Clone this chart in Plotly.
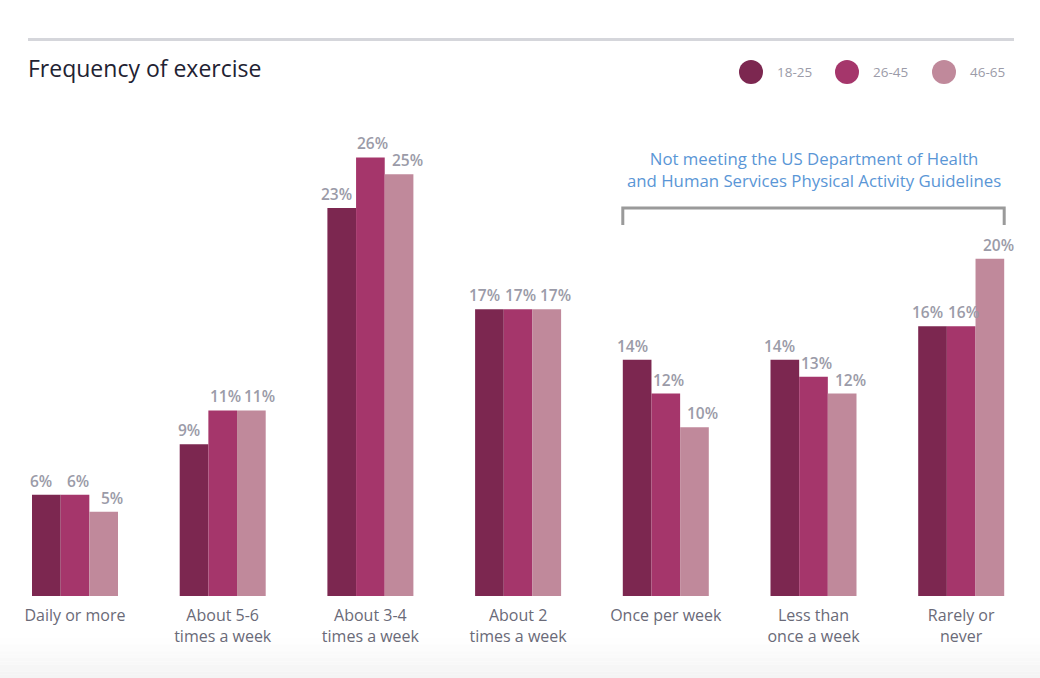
import plotly.graph_objects as go

categories = ["Daily or more", "About 5-6<br>times a week", "About 3-4<br>times a week",
              "About 2<br>times a week", "Once per week", "Less than<br>once a week", "Rarely or<br>never"]
series_names = ["18-25", "26-45", "46-65"]
values_18_25 = [6, 9, 23, 17, 14, 14, 16]
values_26_45 = [6, 11, 26, 17, 12, 13, 16]
values_46_65 = [5, 11, 25, 17, 10, 12, 20]
colors = ["#7c2750", "#a5366b", "#c0899b"]
note_text = "Not meeting the US Department of Health<br>and Human Services Physical Activity Guidelines"
note_groups = [4, 6]  # first and last category index covered by the bracket
title_text = "Frequency of exercise"

W, H = 1040, 678
ML, MR, MT, MB = 0, 0, 90, 82
FONT = "'Open Sans', Lato, sans-serif"

x_idx = list(range(len(categories)))
all_series = [values_18_25, values_26_45, values_46_65]

# x scaling: group spacing ~147.7 px, first group centre at 75 px
spacing = 147.7
group_px = 86
x0 = -75 / spacing
x1 = x0 + (W - ML - MR) / spacing
half_group = 0.5 * group_px / spacing
bar_w = group_px / 3 / spacing

fig = go.Figure()
for name, vals, col in zip(series_names, all_series, colors):
    fig.add_trace(go.Bar(
        x=x_idx, y=vals, name=name, marker=dict(color=col, line=dict(width=0)),
        showlegend=False, hoverinfo="skip",
    ))

# value labels, slightly spread apart so neighbours don't touch
label_nudge = [-5, 2.5, 8.5]
for si, vals in enumerate(all_series):
    for ci, v in enumerate(vals):
        fig.add_annotation(x=ci + (si - 1) * bar_w, y=v, text=f"{v}%", showarrow=False,
                           xref="x", yref="y", xanchor="center", yanchor="bottom",
                           xshift=label_nudge[si], yshift=1,
                           font=dict(family=FONT, size=15.5, color="#9b9ba8", weight=600))

fig.update_layout(
    width=W, height=H, margin=dict(l=ML, r=MR, t=MT, b=MB),
    paper_bgcolor="white", plot_bgcolor="rgba(0,0,0,0)",
    barmode="group", bargap=1 - group_px / spacing, bargroupgap=0,
    font=dict(family=FONT),
    xaxis=dict(range=[x0, x1], tickmode="array", tickvals=x_idx, ticktext=categories,
               showgrid=False, zeroline=False, showline=False,
               ticks="outside", ticklen=5, tickcolor="rgba(0,0,0,0)",
               tickfont=dict(family=FONT, size=16, color="#6a6a78")),
    yaxis=dict(range=[0, 30], visible=False, showgrid=False, zeroline=False),
)

plot_h = H - MT - MB

def py(p):
    return (H - MB - p) / plot_h

# background gradient at the bottom
n = 12
top, bot = 638, 678
for i in range(n):
    ya = top + (bot - top) * i / n
    yb = top + (bot - top) * (i + 1) / n
    g = int(round(255 - 12 * (i + 0.5) / n))
    fig.add_shape(type="rect", xref="paper", yref="paper", x0=0, x1=1, y0=py(yb), y1=py(ya),
                  fillcolor=f"rgb({g},{g},{g})", line=dict(width=0), layer="below")

# top rule
fig.add_shape(type="line", xref="paper", yref="paper", x0=28 / W, x1=1014 / W, y0=py(39.5), y1=py(39.5),
              line=dict(color="#d5d6db", width=3))

# title
fig.add_annotation(text=title_text, xref="paper", yref="paper", x=26 / W, y=py(68), xanchor="left",
                   yanchor="middle", showarrow=False,
                   font=dict(family=FONT, size=23, color="#222232"))

# legend
leg_x = [751, 847, 944]
for cx, name, col in zip(leg_x, series_names, colors):
    fig.add_shape(type="circle", xref="paper", yref="paper", xsizemode="pixel", ysizemode="pixel",
                  xanchor=cx / W, yanchor=py(72), x0=-12, x1=12, y0=-12, y1=12,
                  fillcolor=col, line=dict(width=0))
    fig.add_annotation(text=name, xref="paper", yref="paper", x=(cx + 24) / W, y=py(72),
                       xanchor="left", yanchor="middle", showarrow=False,
                       font=dict(family=FONT, size=13.5, color="#9b9ba8"))

# bracket
bl = note_groups[0] - half_group
br = note_groups[1] + half_group
br_y, br_y2 = 23, 22
fig.add_shape(type="path", xref="x", yref="y",
              path=f"M {bl},{br_y2} L {bl},{br_y} L {br},{br_y} L {br},{br_y2}",
              line=dict(color="#9a9a9a", width=3))
fig.add_annotation(text=note_text, xref="x", yref="y", x=(bl + br) / 2, y=br_y, yshift=14,
                   xanchor="center", yanchor="bottom", showarrow=False, align="center",
                   font=dict(family=FONT, size=16.8, color="#5a96d6"))

fig.write_html("out.html", config={"displayModeBar": False},
               post_script="document.body.style.margin='0px';")
